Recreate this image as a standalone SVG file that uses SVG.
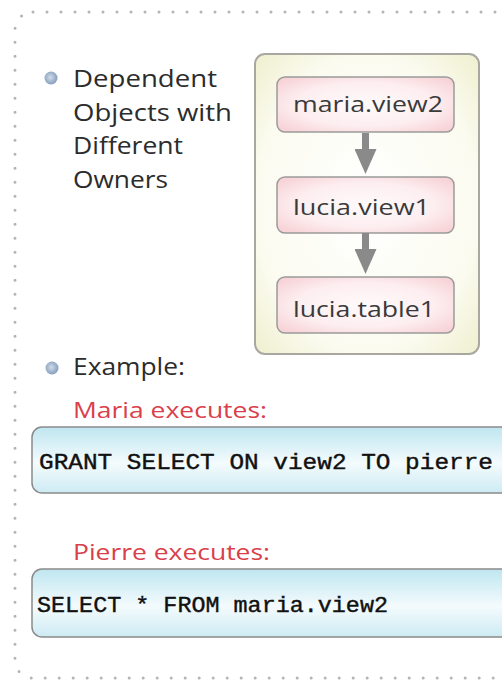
<svg xmlns="http://www.w3.org/2000/svg" width="502" height="681" viewBox="0 0 502 681">
  <defs>
    <radialGradient id="pinkFill" cx="50%" cy="50%" r="65%">
      <stop offset="0" stop-color="#fffafa"/>
      <stop offset="0.6" stop-color="#fdeef0"/>
      <stop offset="1" stop-color="#f7d2d6"/>
    </radialGradient>
    <radialGradient id="creamFill" cx="50%" cy="50%" r="70%">
      <stop offset="0" stop-color="#ffffff"/>
      <stop offset="0.7" stop-color="#fbfbf0"/>
      <stop offset="1" stop-color="#efefcf"/>
    </radialGradient>
    <linearGradient id="codeFill" x1="0" y1="0" x2="0" y2="1">
      <stop offset="0" stop-color="#bfe6f0"/>
      <stop offset="0.55" stop-color="#f4fbfd"/>
      <stop offset="1" stop-color="#cdebf3"/>
    </linearGradient>
    <radialGradient id="bulletFill" cx="45%" cy="45%" r="60%">
      <stop offset="0" stop-color="#d0dcea"/>
      <stop offset="1" stop-color="#7f98b8"/>
    </radialGradient>
    <marker id="arrowHead" markerUnits="userSpaceOnUse" markerWidth="25" markerHeight="22" viewBox="0 0 25 22" refX="0" refY="11" orient="auto">
      <path d="M0,0 L25,11 L0,22 Z" fill="#8a8a8a"/>
    </marker>
    <style>
      .frame { fill: none; stroke: #b4b4b4; stroke-width: 3; stroke-linecap: round; stroke-dasharray: 0 14; }
      .body { font-family: "Open Sans", "Liberation Sans", sans-serif; font-size: 24px; fill: #2c2c2c; }
      .red { font-family: "Open Sans", "Liberation Sans", sans-serif; font-size: 22px; fill: #d9404a; }
      .code { font-family: "Liberation Mono", "DejaVu Sans Mono", monospace; font-size: 22px; fill: #111111; stroke: #111111; stroke-width: 0.4; }
      .obj { fill: url(#pinkFill); stroke: #9a9a9a; stroke-width: 1.5; }
      .objText { font-family: "Open Sans", "Liberation Sans", sans-serif; font-size: 22px; fill: #3a3a3a; }
      .codeBox { fill: url(#codeFill); stroke: #8a8a8a; stroke-width: 1.5; }
      .link { stroke: #8a8a8a; stroke-width: 7; fill: none; marker-end: url(#arrowHead); }
    </style>
  </defs>

  <rect width="502" height="681" fill="#ffffff"/>

  <!-- dotted outer frame (runs past the right edge) -->
  <rect class="frame" x="15" y="12" width="560" height="666" rx="18"/>

  <!-- first bullet -->
  <g id="bullet-dependent">
    <circle cx="51" cy="78" r="6.5" fill="url(#bulletFill)"/>
    <text class="body" x="73" y="87" textLength="144" lengthAdjust="spacingAndGlyphs">Dependent</text>
    <text class="body" x="73" y="120.5" textLength="159" lengthAdjust="spacingAndGlyphs">Objects with</text>
    <text class="body" x="73" y="154" textLength="110" lengthAdjust="spacingAndGlyphs">Different</text>
    <text class="body" x="73" y="187.5" textLength="95" lengthAdjust="spacingAndGlyphs">Owners</text>
  </g>

  <!-- container of dependent objects -->
  <g id="owners-panel">
    <rect x="255" y="54" width="224" height="300" rx="10" fill="url(#creamFill)" stroke="#a8a8a0" stroke-width="2"/>
  </g>

  <g id="maria-view2">
    <rect class="obj" x="277" y="77" width="177" height="55" rx="8"/>
    <text class="objText" x="293" y="112" textLength="150" lengthAdjust="spacingAndGlyphs">maria.view2</text>
  </g>
  <g id="lucia-view1">
    <rect class="obj" x="277" y="177" width="177" height="56" rx="8"/>
    <text class="objText" x="293" y="215" textLength="137" lengthAdjust="spacingAndGlyphs">lucia.view1</text>
  </g>
  <g id="lucia-table1">
    <rect class="obj" x="277" y="277" width="177" height="56" rx="8"/>
    <text class="objText" x="293" y="317" textLength="142" lengthAdjust="spacingAndGlyphs">lucia.table1</text>
  </g>

  <!-- dependency arrows -->
  <g id="connectors">
    <line class="link" x1="365.5" y1="133" x2="365.5" y2="149"/>
    <line class="link" x1="365.5" y1="233" x2="365.5" y2="249"/>
  </g>

  <!-- second bullet -->
  <g id="bullet-example">
    <circle cx="52" cy="368" r="6.5" fill="url(#bulletFill)"/>
    <text class="body" x="73" y="375" textLength="112" lengthAdjust="spacingAndGlyphs">Example:</text>
  </g>

  <g id="maria-grant">
    <text class="red" x="73" y="418" textLength="194" lengthAdjust="spacingAndGlyphs">Maria executes:</text>
    <rect class="codeBox" x="32" y="427" width="480" height="66" rx="10"/>
    <text class="code" x="39" y="469" textLength="454" lengthAdjust="spacingAndGlyphs">GRANT SELECT ON view2 TO pierre</text>
  </g>

  <g id="pierre-select">
    <text class="red" x="73" y="560" textLength="197" lengthAdjust="spacingAndGlyphs">Pierre executes:</text>
    <rect class="codeBox" x="32" y="569" width="480" height="68" rx="10"/>
    <text class="code" x="37" y="612" textLength="351" lengthAdjust="spacingAndGlyphs">SELECT * FROM maria.view2</text>
  </g>
</svg>
